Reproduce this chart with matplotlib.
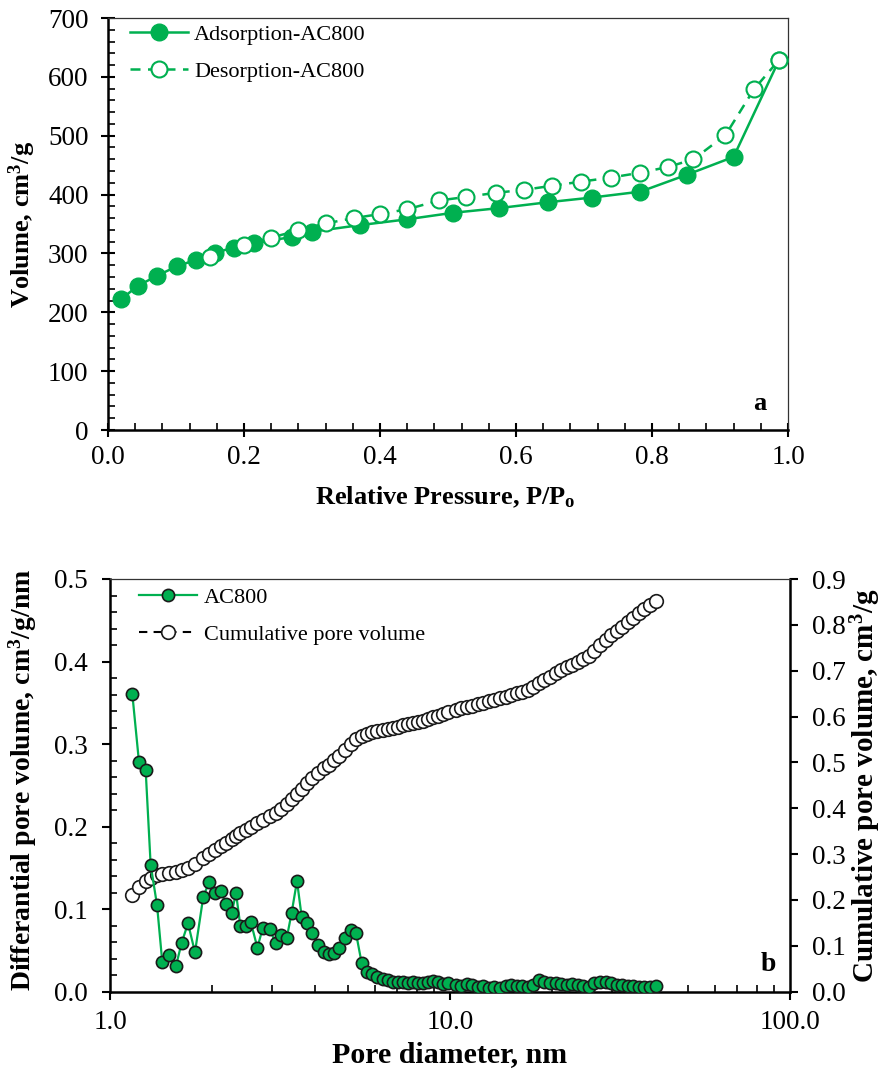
import matplotlib
matplotlib.use("Agg")
import matplotlib.pyplot as plt
from matplotlib.ticker import AutoMinorLocator, MultipleLocator, LogLocator, FuncFormatter, NullFormatter

# ---------------- data: panel a (isotherm) ----------------
ads_p = [0.019, 0.044, 0.072, 0.101, 0.129, 0.157, 0.185, 0.214, 0.270, 0.300,
         0.370, 0.440, 0.507, 0.575, 0.647, 0.712, 0.783, 0.852, 0.920, 0.987]
ads_v = [222, 245, 262, 278, 289, 301, 310, 317, 328, 337,
         348, 358, 369, 377, 387, 395, 405, 434, 464, 629]

des_p = [0.150, 0.200, 0.240, 0.280, 0.320, 0.362, 0.400, 0.440, 0.487, 0.527,
         0.570, 0.612, 0.653, 0.696, 0.740, 0.782, 0.824, 0.861, 0.908, 0.950, 0.987]
des_v = [294, 314, 327, 339, 351, 360, 367, 375, 390, 396,
         403, 408, 415, 422, 429, 437, 447, 460, 501, 579, 629]

# ---------------- data: panel b (pore size distribution) ----------------
pore_d = [1.163, 1.217, 1.273, 1.317, 1.375, 1.425, 1.495, 1.564, 1.625, 1.696,
          1.778, 1.881, 1.960, 2.036, 2.121, 2.189, 2.280, 2.348, 2.417, 2.506,
          2.593, 2.713, 2.812, 2.949, 3.071, 3.184, 3.309, 3.422, 3.548, 3.662,
          3.788, 3.937, 4.101, 4.261, 4.408, 4.570, 4.727, 4.912, 5.104, 5.292,
          5.499, 5.689, 5.912, 6.115, 6.368, 6.587, 6.813, 7.047, 7.290, 7.541,
          7.801, 8.069, 8.347, 8.634, 8.931, 9.239, 9.558, 9.887, 10.41, 10.77,
          11.20, 11.63, 12.06, 12.53, 13.02, 13.50, 14.03, 14.58, 15.11, 15.71,
          16.32, 16.92, 17.59, 18.27, 18.95, 19.68, 20.46, 21.21, 22.04, 22.90,
          23.74, 24.67, 25.64, 26.58, 27.62, 28.70, 29.76, 30.92, 32.13, 33.32,
          34.62, 35.97, 37.29, 38.75, 40.36]

dpv = [0.361, 0.278, 0.269, 0.1535, 0.105, 0.0356, 0.0445, 0.0315, 0.0594, 0.0829,
       0.0477, 0.1152, 0.1333, 0.1193, 0.1224, 0.1059, 0.0958, 0.1193, 0.080, 0.080,
       0.0849, 0.0533, 0.0768, 0.076, 0.0586, 0.0687, 0.0647, 0.0958, 0.1342, 0.0909,
       0.0829, 0.0708, 0.0566, 0.0485, 0.0457, 0.0465, 0.0533, 0.0647, 0.0748, 0.0708,
       0.0344, 0.0242, 0.021, 0.0174, 0.015, 0.0142, 0.0114, 0.012, 0.012, 0.011,
       0.012, 0.010, 0.011, 0.012, 0.013, 0.012, 0.009, 0.010, 0.008, 0.007,
       0.009, 0.008, 0.006, 0.007, 0.005, 0.006, 0.004, 0.007, 0.008, 0.007,
       0.007, 0.006, 0.008, 0.014, 0.012, 0.011, 0.010, 0.009, 0.008, 0.009,
       0.008, 0.007, 0.006, 0.010, 0.012, 0.012, 0.010, 0.008, 0.008, 0.007,
       0.007, 0.006, 0.006, 0.006, 0.007]

cpv = [0.211, 0.228, 0.241, 0.249, 0.255, 0.257, 0.259, 0.262, 0.265, 0.270,
       0.279, 0.291, 0.300, 0.310, 0.318, 0.325, 0.333, 0.339, 0.345, 0.353,
       0.359, 0.367, 0.374, 0.383, 0.390, 0.399, 0.409, 0.420, 0.432, 0.443,
       0.455, 0.467, 0.477, 0.487, 0.495, 0.505, 0.514, 0.527, 0.540, 0.550,
       0.557, 0.562, 0.566, 0.568, 0.571, 0.573, 0.575, 0.578, 0.581, 0.583,
       0.585, 0.588, 0.591, 0.595, 0.599, 0.602, 0.606, 0.610, 0.614, 0.618,
       0.6215, 0.6236, 0.6273, 0.630, 0.634, 0.636, 0.640, 0.643, 0.647, 0.6507,
       0.654, 0.659, 0.665, 0.6725, 0.680, 0.687, 0.694, 0.701, 0.7074, 0.7124,
       0.718, 0.725, 0.732, 0.7436, 0.756, 0.767, 0.778, 0.787, 0.796, 0.8055,
       0.8155, 0.825, 0.834, 0.843, 0.8526]

GREEN = "#00B050"

plt.rcParams['font.family'] = ['Liberation Serif', 'DejaVu Serif']
plt.rcParams['mathtext.fontset'] = 'custom'
plt.rcParams['mathtext.rm'] = 'Liberation Serif'
plt.rcParams['mathtext.bf'] = 'Liberation Serif:bold'
plt.rcParams['mathtext.it'] = 'Liberation Serif:italic'

TICK_FS = 19.5
LABEL_FS = 19
LEG_FS = 16

fig = plt.figure(figsize=(8.84, 10.72), dpi=100)

# ================= panel a =================
axa = fig.add_axes([108/884, 1 - 430/1072, 680/884, 412/1072])
axa.plot(ads_p, ads_v, color=GREEN, lw=1.8, marker='o', ms=12, mfc=GREEN, mec=GREEN,
         label='Adsorption-AC800', zorder=3)
axa.plot(des_p, des_v, color=GREEN, lw=1.8, ls='--', dashes=(4, 3), marker='o', ms=11.5,
         mfc='white', mec=GREEN, mew=1.5, label='Desorption-AC800', zorder=4)
axa.set_xlim(0, 1.0)
axa.set_ylim(0, 700)
axa.xaxis.set_major_locator(MultipleLocator(0.2))
axa.xaxis.set_minor_locator(AutoMinorLocator(5))
axa.yaxis.set_major_locator(MultipleLocator(100))
axa.yaxis.set_minor_locator(AutoMinorLocator(5))
axa.xaxis.set_major_formatter(FuncFormatter(lambda v, p: f"{v:.1f}"))
axa.tick_params(axis='both', which='major', direction='inout', length=10, width=1.5,
                labelsize=TICK_FS)
axa.tick_params(axis='x', which='major', pad=6)
axa.tick_params(axis='y', which='major', pad=9)
axa.tick_params(axis='both', which='minor', direction='in', length=5, width=1.2)
for s in ['left', 'bottom']:
    axa.spines[s].set_linewidth(1.8)
for s in ['top', 'right']:
    axa.spines[s].set_linewidth(0.9)
    axa.spines[s].set_color('#333333')
axa.set_xlabel(r'Relative Pressure, P/P$_{\mathbf{o}}$', fontsize=LABEL_FS,
               fontweight='bold', va='center')
axa.xaxis.set_label_coords(0.496, -0.163)
axa.set_ylabel(r'Volume, cm$^{\mathbf{3}}$/g', fontsize=LABEL_FS, fontweight='bold',
               va='center')
axa.yaxis.set_label_coords(-0.126, 0.5)
axa.text(0.959, 0.0655, 'a', transform=axa.transAxes, fontsize=LABEL_FS,
         fontweight='bold', ha='center', va='center')
axa.legend(loc='upper left', bbox_to_anchor=(0.032, 0.985), frameon=False,
           fontsize=LEG_FS, handlelength=2.6, handletextpad=0.3, labelspacing=0.75,
           borderaxespad=0, borderpad=0)

# ================= panel b =================
axb = fig.add_axes([110/884, 1 - 991.7/1072, 680/884, 412.7/1072])
axc = axb.twinx()
axb.set_zorder(axc.get_zorder() + 1)
axb.patch.set_visible(False)

l1, = axb.plot(pore_d, dpv, color=GREEN, lw=1.6, marker='o', ms=8.8, mfc=GREEN,
               mec='#1a1a1a', mew=1.2, label='AC800', zorder=3)
l2, = axc.plot(pore_d, cpv, color='black', lw=1.5, ls='--', dashes=(4, 3), marker='o',
               ms=9.8, mfc='white', mec='#1a1a1a', mew=1.2,
               label='Cumulative pore volume', zorder=3)

axb.set_xscale('log')
axb.set_xlim(1.0, 100.0)
axb.set_ylim(0, 0.5)
axc.set_ylim(0, 0.9)
axb.xaxis.set_major_locator(LogLocator(base=10, subs=(1.0,)))
axb.xaxis.set_minor_locator(LogLocator(base=10, subs=tuple(range(2, 10))))
axb.xaxis.set_major_formatter(FuncFormatter(lambda v, p: f"{v:.1f}"))
axb.xaxis.set_minor_formatter(NullFormatter())
axb.yaxis.set_major_locator(MultipleLocator(0.1))
axb.yaxis.set_minor_locator(AutoMinorLocator(5))
axb.yaxis.set_major_formatter(FuncFormatter(lambda v, p: f"{v:.1f}"))
axc.yaxis.set_major_locator(MultipleLocator(0.1))
axc.yaxis.set_major_formatter(FuncFormatter(lambda v, p: f"{v:.1f}"))

axb.tick_params(axis='both', which='major', direction='out', length=6, width=1.5,
                labelsize=TICK_FS)
axb.tick_params(axis='x', which='major', pad=7)
axb.tick_params(axis='y', which='major', pad=10)
axb.tick_params(axis='both', which='minor', direction='in', length=5, width=1.2)
axc.tick_params(axis='y', which='major', direction='out', length=6, width=1.5,
                labelsize=TICK_FS, pad=10)

for s in ['left', 'bottom']:
    axb.spines[s].set_linewidth(1.8)
axb.spines['right'].set_visible(False)
axb.spines['top'].set_linewidth(0.9)
axb.spines['top'].set_color('#333333')
for s in ['left', 'bottom', 'top']:
    axc.spines[s].set_visible(False)
axc.spines['right'].set_linewidth(1.8)

axb.set_xlabel('Pore diameter, nm', fontsize=21.5, fontweight='bold', va='center')
axb.xaxis.set_label_coords(0.5, -0.153)
axb.set_ylabel(r'Differantial pore volume, cm$^{\mathbf{3}}$/g/nm', fontsize=20,
               fontweight='bold', va='center')
axb.yaxis.set_label_coords(-0.129, 0.513)
axc.set_ylabel(r'Cumulative pore volume, cm$^{\mathbf{3}}$/g', fontsize=21,
               fontweight='bold', va='center', rotation=90)
axc.yaxis.set_label_coords(1.112, 0.5)
axb.text(0.968, 0.065, 'b', transform=axb.transAxes, fontsize=20,
         fontweight='bold', ha='center', va='center')
axb.legend(handles=[l1, l2], loc='upper left', bbox_to_anchor=(0.043, 0.98),
           frameon=False, fontsize=LEG_FS, handlelength=2.6, handletextpad=0.3,
           labelspacing=0.75, borderaxespad=0, borderpad=0)

fig.savefig('out.png', dpi=100)
